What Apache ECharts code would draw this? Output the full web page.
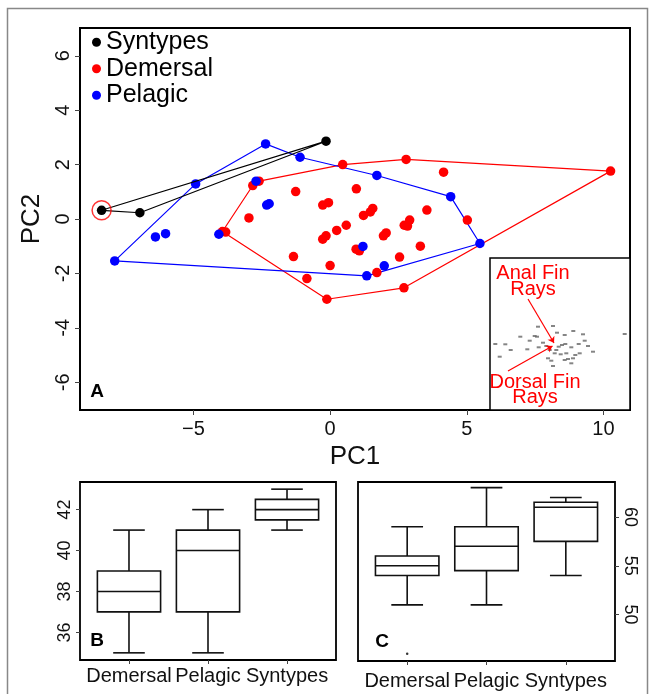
<!DOCTYPE html>
<html><head><meta charset="utf-8">
<script src="https://cdn.jsdelivr.net/npm/echarts/dist/echarts.min.js"></script>
<style>html,body{margin:0;padding:0;background:#fff}#c{width:655px;height:694px}</style>
</head><body><div id="c"></div>
<script>
const FONT = '"Liberation Sans", Arial, sans-serif';

// ---- Panel A : PCA scores ----
const syntypes = [[-8.36,0.32],[-6.96,0.23],[-0.15,2.86]];
const demersal = [
  [-2.83,1.23],[-2.60,1.39],[-1.26,1.01],[-2.97,0.04],[-3.94,-0.46],[-3.82,-0.48],
  [-0.27,0.51],[-0.06,0.60],[0.46,2.00],[2.78,2.19],[10.26,1.76],[4.15,1.72],
  [0.96,1.11],[1.22,0.13],[1.47,0.26],[1.56,0.39],[3.54,0.33],[2.91,-0.04],
  [2.71,-0.23],[2.83,-0.26],[5.02,-0.04],[0.59,-0.23],[0.24,-0.42],[-0.27,-0.74],
  [-0.15,-0.62],[1.95,-0.62],[2.05,-0.51],[3.30,-1.00],[0.95,-1.11],[1.07,-1.17],
  [2.54,-1.40],[0.00,-1.71],[1.71,-1.97],[-0.85,-2.19],[-0.12,-2.95],[2.70,-2.53],
  [-1.34,-1.38]
];
const pelagic = [
  [-7.88,-1.54],[-4.92,1.29],[-2.36,2.76],[-1.10,2.27],[1.71,1.60],[4.41,0.82],
  [5.48,-0.90],[1.34,-2.09],[1.98,-1.72],[1.20,-1.01],[-2.71,1.39],[-2.32,0.51],
  [-2.23,0.56],[-6.39,-0.66],[-6.02,-0.54],[-4.07,-0.56]
];
const syntypeHull = [0,1,2,0];
const demersalHull = [4,0,1,8,9,10,35,34,4];
const pelagicHull = [0,1,2,3,4,5,6,7,0];
const pcXTicks = [-5,0,5,10];
const pcYTicks = [-6,-4,-2,0,2,4,6];

// ---- inset biplot ----
const insetScores = [
  [-1.6,1.83],[-0.1,1.9],[-3.37,0.83],[-1.93,0.9],[-1.7,0.83],[-2.43,0.43],[-1.1,0.23],
  [0.3,1.23],[1.07,1.0],[1.93,1.4],[2.9,1.07],[3.07,0.43],[-5.87,0.1],[-4.87,0.07],
  [-4.33,-0.5],[-2.67,-0.43],[-1.53,-0.23],[-0.77,-0.1],[-0.43,-0.5],[0.23,-0.5],
  [0.47,-0.17],[0.8,0],[1.13,0.1],[1.73,-0.23],[2.47,0.1],[3.4,-0.1],[3.9,-0.67],
  [0.07,-0.83],[0.67,-0.93],[1.23,-0.83],[2.13,-1.0],[2.57,-0.83],[-0.6,-1.33],
  [1.07,-1.5],[1.4,-1.4],[1.9,-1.33],[-0.1,-2.1],[1.73,-1.83],[-5.43,-1.17],
  [7.07,1.1],[-0.27,-1.57]
];
const analArrow = [[-2.6,4.6],[0.0,0.2]];
const dorsalArrow = [[-4.6,-2.6],[-0.15,-0.1]];

// ---- Panels B and C : boxplots [min, q1, median, q3, max] ----
const boxCats = ['Demersal','Pelagic','Syntypes'];
const boxB = [[35,37,38,39,41],[35,37,40,41,42],[41,41.5,42,42.5,43]];
const boxC = [[51,54,55,56,59],[51,54.5,57,59,63],[54,57.5,61,61.5,62]];
const outliersC = [[1,46]];
const boxBTicks = [36,38,40,42];
const boxCTicks = [50,55,60];

const chart = echarts.init(document.getElementById('c'));

function hullLine(pts, order){ return order.map(i => pts[i]); }

function renderBox(params, api){
  const x = api.value(0);
  const p = [1,2,3,4,5].map(k => api.coord([x, api.value(k)]));
  const cx = p[0][0];
  const hw = api.size([0.8,0])[0]/2;
  const cw = hw/2;
  const ls = {stroke:'#111', lineWidth:1.6, fill:null};
  const line = (x1,y1,x2,y2) => ({type:'line', shape:{x1,y1,x2,y2}, style:ls});
  return {type:'group', children:[
    line(cx,p[0][1],cx,p[1][1]),
    line(cx,p[3][1],cx,p[4][1]),
    line(cx-cw,p[0][1],cx+cw,p[0][1]),
    line(cx-cw,p[4][1],cx+cw,p[4][1]),
    {type:'rect', shape:{x:cx-hw, y:p[3][1], width:2*hw, height:p[1][1]-p[3][1]},
     style:{stroke:'#111', lineWidth:1.6, fill:'#fff'}},
    line(cx-hw,p[2][1],cx+hw,p[2][1])
  ]};
}

const tickStyle = {color:'#444', width:1};
const catFmt = v => boxCats[Math.round(v)-1] || '';

chart.setOption({
  animation:false,
  backgroundColor:'#fff',
  textStyle:{fontFamily:FONT},
  legend:{
    data:['Syntypes','Demersal','Pelagic'],
    orient:'vertical', left:92, top:29, padding:0, itemGap:0,
    itemWidth:9, itemHeight:9, icon:'circle', selectedMode:false,
    textStyle:{fontSize:25, lineHeight:26.5, color:'#000', fontFamily:FONT}
  },
  grid:[
    {left:80, top:28, width:550, height:382, show:true, borderColor:'#000', borderWidth:2, backgroundColor:'transparent'},
    {left:490, top:258, width:140, height:152, show:true, borderColor:'#000', borderWidth:1.5, backgroundColor:'#fff'},
    {left:80, top:482, width:256, height:178, show:true, borderColor:'#000', borderWidth:1.8, backgroundColor:'transparent'},
    {left:358, top:482, width:257, height:179, show:true, borderColor:'#000', borderWidth:1.8, backgroundColor:'transparent'}
  ],
  xAxis:[
    {gridIndex:0, type:'value', min:-9.15, max:10.97,
     axisLine:{show:false, onZero:false}, splitLine:{show:false},
     axisTick:{show:true, customValues:pcXTicks, length:5, lineStyle:tickStyle},
     axisLabel:{customValues:pcXTicks, fontSize:20, margin:9, color:'#111', fontFamily:FONT,
       formatter:v => v<0 ? '\u2212'+Math.abs(v) : String(v)},
     name:'PC1', nameLocation:'middle', nameGap:33,
     nameTextStyle:{fontSize:26, color:'#111', fontFamily:FONT}},
    {gridIndex:1, type:'value', min:-6.4, max:7.6, show:false},
    {gridIndex:2, type:'value', min:0.38, max:3.62,
     axisLine:{show:false, onZero:false}, splitLine:{show:false},
     axisTick:{show:true, customValues:[1,2,3], length:4, lineStyle:tickStyle},
     axisLabel:{customValues:[1,2,3], fontSize:20, margin:6, color:'#111', fontFamily:FONT, formatter:catFmt}},
    {gridIndex:3, type:'value', min:0.38, max:3.62,
     axisLine:{show:false, onZero:false}, splitLine:{show:false},
     axisTick:{show:true, customValues:[1,2,3], length:4, lineStyle:tickStyle},
     axisLabel:{customValues:[1,2,3], fontSize:20, margin:10, color:'#111', fontFamily:FONT, formatter:catFmt}}
  ],
  yAxis:[
    {gridIndex:0, type:'value', min:-7.02, max:7.02,
     axisLine:{show:false, onZero:false}, splitLine:{show:false},
     axisTick:{show:true, customValues:pcYTicks, length:5, lineStyle:tickStyle},
     axisLabel:{customValues:pcYTicks, fontSize:20, margin:7, rotate:90, color:'#111', fontFamily:FONT},
     name:'PC2', nameLocation:'middle', nameGap:25, nameRotate:90,
     nameTextStyle:{fontSize:26, color:'#111', fontFamily:FONT}},
    {gridIndex:1, type:'value', min:-6.5, max:8.7, show:false},
    {gridIndex:2, type:'value', min:34.65, max:43.35,
     axisLine:{show:false, onZero:false}, splitLine:{show:false},
     axisTick:{show:true, customValues:boxBTicks, length:4, lineStyle:tickStyle},
     axisLabel:{customValues:boxBTicks, fontSize:18, margin:6, rotate:90, color:'#111', fontFamily:FONT}},
    {gridIndex:3, type:'value', position:'right', min:45.25, max:63.58,
     axisLine:{show:false, onZero:false}, splitLine:{show:false},
     axisTick:{show:true, customValues:boxCTicks, length:4, lineStyle:tickStyle},
     axisLabel:{customValues:boxCTicks, fontSize:18, margin:6, rotate:-90, color:'#111', fontFamily:FONT}}
  ],
  series:[
    {name:'Demersal hull', type:'line', xAxisIndex:0, yAxisIndex:0, data:hullLine(demersal, demersalHull),
     symbol:'none', lineStyle:{color:'#ff0000', width:1.2}, z:2, silent:true},
    {name:'Pelagic hull', type:'line', xAxisIndex:0, yAxisIndex:0, data:hullLine(pelagic, pelagicHull),
     symbol:'none', lineStyle:{color:'#0000ff', width:1.2}, z:2, silent:true},
    {name:'Demersal', type:'scatter', xAxisIndex:0, yAxisIndex:0, data:demersal, symbolSize:9.5,
     itemStyle:{color:'#ff0000', opacity:1}, z:3},
    {name:'Pelagic', type:'scatter', xAxisIndex:0, yAxisIndex:0, data:pelagic, symbolSize:9.5,
     itemStyle:{color:'#0000ff', opacity:1}, z:3},
    {name:'Syntypes hull', type:'line', xAxisIndex:0, yAxisIndex:0, data:hullLine(syntypes, syntypeHull),
     symbol:'none', lineStyle:{color:'#000', width:1.2}, z:4, silent:true},
    {name:'Syntypes', type:'scatter', xAxisIndex:0, yAxisIndex:0, data:syntypes, symbolSize:9.5,
     itemStyle:{color:'#000', opacity:1}, z:5},
    {name:'Highlighted syntype', type:'scatter', xAxisIndex:0, yAxisIndex:0, data:[syntypes[0]], symbolSize:19,
     itemStyle:{color:'rgba(0,0,0,0)', borderColor:'#ff0000', borderWidth:1.5}, z:6},
    // inset
    {name:'Inset scores', type:'scatter', xAxisIndex:1, yAxisIndex:1, data:insetScores,
     symbol:'rect', symbolSize:[4,2], itemStyle:{color:'#666'}, z:3},
    {name:'Loadings', type:'lines', coordinateSystem:'cartesian2d', xAxisIndex:1, yAxisIndex:1,
     data:[{coords:analArrow},{coords:dorsalArrow}],
     symbol:['none','arrow'], symbolSize:6,
     lineStyle:{color:'#ff0000', width:1.2, opacity:1}, z:4},
    // boxplots
    {name:'Box B', type:'custom', xAxisIndex:2, yAxisIndex:2,
     data:boxB.map((s,i)=>[i+1].concat(s)), renderItem:renderBox, encode:{x:0, y:[1,2,3,4,5]}, z:3},
    {name:'Box C', type:'custom', xAxisIndex:3, yAxisIndex:3,
     data:boxC.map((s,i)=>[i+1].concat(s)), renderItem:renderBox, encode:{x:0, y:[1,2,3,4,5]}, z:3},
    {name:'Outliers C', type:'scatter', xAxisIndex:3, yAxisIndex:3, data:outliersC, symbolSize:2.5,
     itemStyle:{color:'#000'}, z:4}
  ],
  graphic:[
    {type:'rect', shape:{x:7.5, y:8.5, width:640, height:700}, style:{fill:null, stroke:'#888', lineWidth:1.5}, silent:true, z:-10},
    {type:'text', x:97, y:392, style:{text:'A', font:'bold 19px '+FONT, fill:'#000', align:'center', verticalAlign:'middle'}, z:10},
    {type:'text', x:97, y:641, style:{text:'B', font:'bold 19px '+FONT, fill:'#000', align:'center', verticalAlign:'middle'}, z:10},
    {type:'text', x:382, y:642, style:{text:'C', font:'bold 19px '+FONT, fill:'#000', align:'center', verticalAlign:'middle'}, z:10},
    {type:'text', x:533, y:281, style:{text:'Anal Fin\nRays', font:'20px '+FONT, fill:'#ff0000', align:'center', verticalAlign:'middle', lineHeight:16}, z:10},
    {type:'text', x:535, y:389.5, style:{text:'Dorsal Fin\nRays', font:'20px '+FONT, fill:'#ff0000', align:'center', verticalAlign:'middle', lineHeight:15}, z:10}
  ]
});
</script></body></html>
